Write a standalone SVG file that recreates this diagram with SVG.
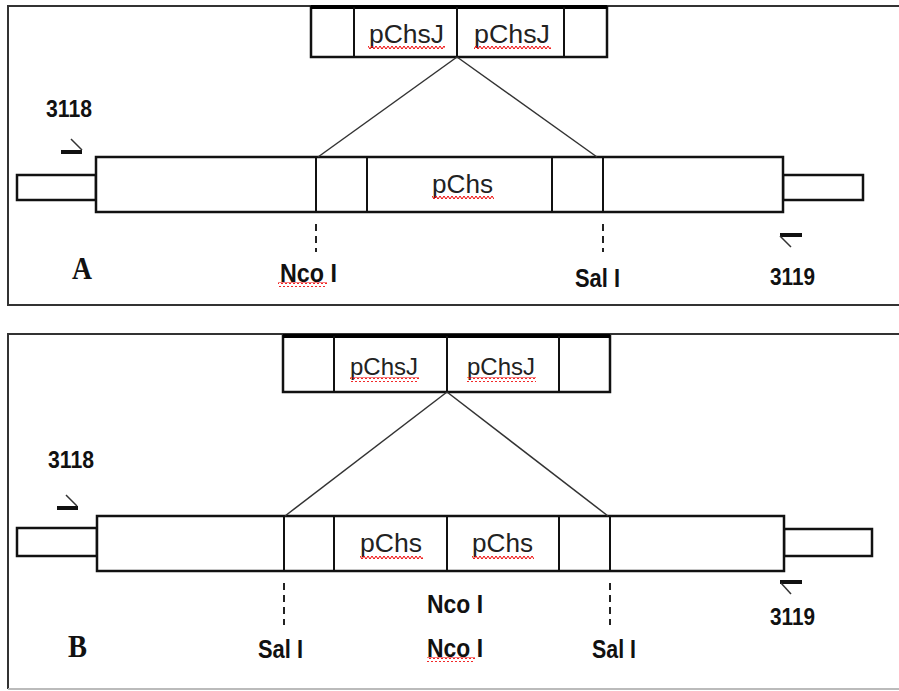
<svg xmlns="http://www.w3.org/2000/svg" width="899" height="691" viewBox="0 0 899 691">
<style>
.frame{fill:none;stroke:#333;stroke-width:2}
.box{fill:#fff;stroke:#111;stroke-width:2.5}
.div{stroke:#111;stroke-width:2}
.thick{stroke:#000;stroke-width:4}
.conn{stroke:#333;stroke-width:1.5;fill:none}
.dash{stroke:#222;stroke-width:2;stroke-dasharray:7,5}
.lab{font-family:"Liberation Sans",Arial,sans-serif;font-weight:bold;fill:#111}
.seq{font-family:"Liberation Sans",Arial,sans-serif;fill:#222}
.big{font-family:"Liberation Serif","Times New Roman",serif;font-weight:bold;fill:#111}
.pbar{stroke:#111;stroke-width:4}
.pdiag{stroke:#333;stroke-width:1.5}
.sq{fill:url(#squig)}
</style>
<defs>
<pattern id="squig" patternUnits="userSpaceOnUse" width="4" height="5">
<path d="M0,1 L2,4 L4,1" fill="none" stroke="#e00" stroke-width="1"/>
</pattern>
</defs>
<rect width="899" height="691" fill="#fff"/>

<!-- Panel A -->
<g id="frameA"><path class="frame" d="M899,6 H8 V305 H899"/></g>
<g id="insertA">
<rect class="box" x="311" y="7" width="296" height="50"/>
<line class="thick" x1="311" y1="7" x2="607" y2="7"/>
<line class="div" x1="354" y1="7" x2="354" y2="57"/>
<line class="div" x1="457" y1="7" x2="457" y2="57"/>
<line class="div" x1="564" y1="7" x2="564" y2="57"/>
<text class="seq" x="369" y="43" font-size="25" textLength="75" lengthAdjust="spacingAndGlyphs">pChsJ</text>
<text class="seq" x="474" y="43" font-size="25" textLength="76" lengthAdjust="spacingAndGlyphs">pChsJ</text>
<rect class="sq" x="368" y="45" width="77" height="5"/>
<rect class="sq" x="474" y="45" width="77" height="5"/>
</g>
<g id="vectorA">
<rect class="box" x="17" y="175" width="79" height="25"/>
<rect class="box" x="783" y="175" width="80" height="25"/>
<rect class="box" x="96" y="157" width="687" height="55"/>
<line class="div" x1="316" y1="157" x2="316" y2="212"/>
<line class="div" x1="367" y1="157" x2="367" y2="212"/>
<line class="div" x1="552" y1="157" x2="552" y2="212"/>
<line class="div" x1="603" y1="157" x2="603" y2="212"/>
<text class="seq" x="432" y="193" font-size="26" textLength="61" lengthAdjust="spacingAndGlyphs">pChs</text>
<rect class="sq" x="432" y="195" width="62" height="5"/>
</g>
<g id="primer3118A">
<line class="pbar" x1="61" y1="152" x2="82" y2="152"/>
<line class="pdiag" x1="71" y1="139" x2="82" y2="150"/>
<text class="lab" x="46" y="117" font-size="24" textLength="46" lengthAdjust="spacingAndGlyphs">3118</text>
</g>
<g id="primer3119A">
<line class="pbar" x1="780" y1="235" x2="802" y2="235"/>
<line class="pdiag" x1="780" y1="236" x2="791" y2="247"/>
<text class="lab" x="770" y="285" font-size="24" textLength="45" lengthAdjust="spacingAndGlyphs">3119</text>
</g>
<g id="labelsA">
<text class="big" x="72" y="279" font-size="31" textLength="20" lengthAdjust="spacingAndGlyphs">A</text>
<text class="lab" x="280" y="282" font-size="26" textLength="57" lengthAdjust="spacingAndGlyphs">Nco I</text>
<rect class="sq" x="278" y="282" width="49" height="5"/>
<text class="lab" x="575" y="287" font-size="26" textLength="45" lengthAdjust="spacingAndGlyphs">Sal I</text>
</g>

<!-- Panel B -->
<g id="frameB"><path class="frame" d="M899,334 H8 V689"/><line x1="8" y1="689" x2="899" y2="689" stroke="#bbb" stroke-width="2"/></g>
<g id="insertB">
<rect class="box" x="283" y="336" width="327" height="56"/>
<line class="thick" x1="283" y1="336" x2="610" y2="336"/>
<line class="div" x1="334" y1="336" x2="334" y2="392"/>
<line class="div" x1="447" y1="336" x2="447" y2="392"/>
<line class="div" x1="559" y1="336" x2="559" y2="392"/>
<text class="seq" x="350" y="375" font-size="24" textLength="68" lengthAdjust="spacingAndGlyphs">pChsJ</text>
<text class="seq" x="467" y="375" font-size="24" textLength="68" lengthAdjust="spacingAndGlyphs">pChsJ</text>
<rect class="sq" x="350" y="377" width="69" height="5"/>
<rect class="sq" x="467" y="377" width="69" height="5"/>
</g>
<g id="vectorB">
<rect class="box" x="17" y="528" width="80" height="28"/>
<rect class="box" x="784" y="529" width="88" height="27"/>
<rect class="box" x="97" y="516" width="687" height="55"/>
<line class="div" x1="284" y1="516" x2="284" y2="571"/>
<line class="div" x1="334" y1="516" x2="334" y2="571"/>
<line class="div" x1="447" y1="516" x2="447" y2="571"/>
<line class="div" x1="559" y1="516" x2="559" y2="571"/>
<line class="div" x1="610" y1="516" x2="610" y2="571"/>
<text class="seq" x="360" y="552" font-size="25" textLength="62" lengthAdjust="spacingAndGlyphs">pChs</text>
<text class="seq" x="472" y="552" font-size="25" textLength="61" lengthAdjust="spacingAndGlyphs">pChs</text>
<rect class="sq" x="360" y="554" width="63" height="5"/>
<rect class="sq" x="472" y="554" width="62" height="5"/>
</g>
<g id="primer3118B">
<line class="pbar" x1="57" y1="508" x2="78" y2="508"/>
<line class="pdiag" x1="66" y1="495" x2="77" y2="506"/>
<text class="lab" x="48" y="468" font-size="24" textLength="46" lengthAdjust="spacingAndGlyphs">3118</text>
</g>
<g id="primer3119B">
<line class="pbar" x1="780" y1="582" x2="802" y2="582"/>
<line class="pdiag" x1="781" y1="583" x2="791" y2="594"/>
<text class="lab" x="770" y="625" font-size="24" textLength="45" lengthAdjust="spacingAndGlyphs">3119</text>
</g>
<g id="labelsB">
<text class="big" x="68" y="657" font-size="31" textLength="19" lengthAdjust="spacingAndGlyphs">B</text>
<text class="lab" x="258" y="658" font-size="26" textLength="45" lengthAdjust="spacingAndGlyphs">Sal I</text>
<text class="lab" x="427" y="613" font-size="26" textLength="56" lengthAdjust="spacingAndGlyphs">Nco I</text>
<text class="lab" x="427" y="657" font-size="26" textLength="56" lengthAdjust="spacingAndGlyphs">Nco I</text>
<rect class="sq" x="427" y="657" width="48" height="5"/>
<text class="lab" x="592" y="658" font-size="26" textLength="44" lengthAdjust="spacingAndGlyphs">Sal I</text>
</g>

<g id="connectors">
<line class="conn" x1="457" y1="57" x2="318" y2="157"/>
<line class="conn" x1="457" y1="57" x2="597" y2="157"/>
<line class="conn" x1="447" y1="392" x2="285" y2="516"/>
<line class="conn" x1="447" y1="392" x2="608" y2="516"/>
<line class="dash" x1="316" y1="224" x2="316" y2="252"/>
<line class="dash" x1="603" y1="224" x2="603" y2="252"/>
<line class="dash" x1="284" y1="583" x2="284" y2="625"/>
<line class="dash" x1="610" y1="583" x2="610" y2="625"/>
</g>
</svg>
